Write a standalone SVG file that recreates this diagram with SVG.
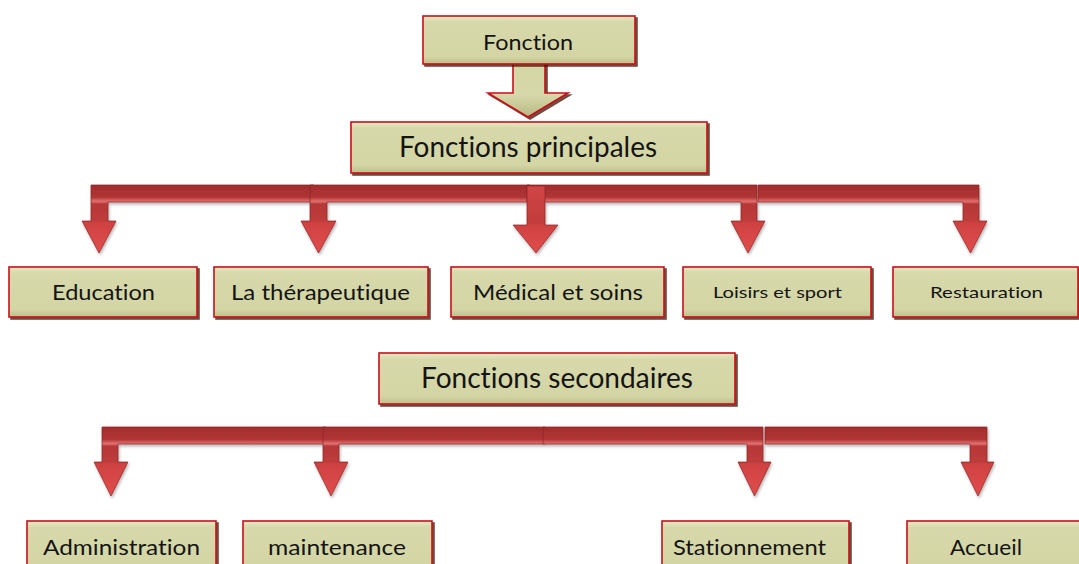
<svg xmlns="http://www.w3.org/2000/svg" width="1079" height="564" viewBox="0 0 1079 564">
  <style>
    .box { fill: url(#boxFill); stroke: #c8101a; stroke-width: 1.6; filter: url(#boxShadow); }
    .lbl { font-family: Lato, "Open Sans", "Liberation Sans", sans-serif; fill: #141414; text-anchor: middle; font-variant-ligatures: none; font-feature-settings: "liga" 0; }
    .arrow1 { fill: url(#redRow1); stroke: #8e2424; stroke-width: 0.7; }
    .arrow2 { fill: url(#redRow2); stroke: #8e2424; stroke-width: 0.7; }
    .arrowC { fill: url(#redMid); stroke: #8e2424; stroke-width: 0.7; }
  </style>
  <defs>
    <linearGradient id="boxFill" x1="0" y1="0" x2="0" y2="1">
      <stop offset="0" stop-color="#e6e8c4"/>
      <stop offset="0.12" stop-color="#d7d9ab"/>
      <stop offset="0.85" stop-color="#d3d5a4"/>
      <stop offset="1" stop-color="#bcbf8a"/>
    </linearGradient>
    <linearGradient id="khakiArrow" x1="0" y1="0" x2="0" y2="1">
      <stop offset="0" stop-color="#d3d5a3"/>
      <stop offset="0.6" stop-color="#d7d9ab"/>
      <stop offset="1" stop-color="#b7ba82"/>
    </linearGradient>
    <!-- red fill for the bent arrows, laid out in page space per row -->
    <linearGradient id="redRow1" gradientUnits="userSpaceOnUse" x1="0" y1="185" x2="0" y2="253">
      <stop offset="0" stop-color="#a22c2c"/>
      <stop offset="0.18" stop-color="#b13535"/>
      <stop offset="0.24" stop-color="#e27070"/>
      <stop offset="0.28" stop-color="#b63838"/>
      <stop offset="0.52" stop-color="#be3b3b"/>
      <stop offset="0.56" stop-color="#cf4242"/>
      <stop offset="1" stop-color="#e24c4c"/>
    </linearGradient>
    <linearGradient id="redRow2" gradientUnits="userSpaceOnUse" x1="0" y1="427" x2="0" y2="496">
      <stop offset="0" stop-color="#a22c2c"/>
      <stop offset="0.18" stop-color="#b13535"/>
      <stop offset="0.24" stop-color="#e27070"/>
      <stop offset="0.28" stop-color="#b63838"/>
      <stop offset="0.5" stop-color="#be3b3b"/>
      <stop offset="0.54" stop-color="#cf4242"/>
      <stop offset="1" stop-color="#e24c4c"/>
    </linearGradient>
    <linearGradient id="redMid" gradientUnits="userSpaceOnUse" x1="0" y1="186" x2="0" y2="253">
      <stop offset="0" stop-color="#d04545"/>
      <stop offset="0.55" stop-color="#c23c3c"/>
      <stop offset="0.59" stop-color="#cf4242"/>
      <stop offset="1" stop-color="#e24c4c"/>
    </linearGradient>
    <filter id="boxShadow" x="-5%" y="-10%" width="112%" height="130%">
      <feDropShadow dx="2" dy="2" stdDeviation="0.7" flood-color="#3a0a05" flood-opacity="0.75"/>
    </filter>
    <filter id="arrowShadow" x="-5%" y="-10%" width="112%" height="130%">
      <feDropShadow dx="1" dy="2" stdDeviation="1.5" flood-color="#000" flood-opacity="0.3"/>
    </filter>
  </defs>

  <rect width="1079" height="564" fill="#ffffff"/>

  <!-- connectors -->
  <g id="connectors">
    <!-- Fonction to Fonctions principales -->
    <path d="M513,60 L545,60 L545,93 L568,93 L528,117 L488,93 L513,93 Z" fill="url(#khakiArrow)" stroke="#c8101a" stroke-width="1.6" filter="url(#boxShadow)"/>

    <!-- Fonctions principales branches -->
    <g filter="url(#arrowShadow)">
      <path class="arrow1" d="M314,185 L91,185 L91,221 L82,221 L99,253 L116,221 L108,221 L108,202 L314,202 Z"/>
      <path class="arrow1" d="M530,185 L310,185 L310,221 L301,221 L318.5,253 L336,221 L327,221 L327,202 L530,202 Z"/>
      <path class="arrow1" d="M758,185 L979,185 L979,221 L987,221 L970.5,253 L953,221 L963,221 L963,202 L758,202 Z"/>
      <path class="arrow1" d="M527,185 L757,185 L757,221 L765,221 L748,253 L731,221 L741,221 L741,202 L527,202 Z"/>
      <path class="arrowC" d="M527,186 L545,186 L545,225 L558,225 L536,253 L513,225 L527,225 Z"/>
    </g>

    <!-- Fonctions secondaires branches -->
    <g filter="url(#arrowShadow)">
      <path class="arrow2" d="M326,427 L102,427 L102,462 L94,462 L111,496 L128,462 L118,462 L118,444 L326,444 Z"/>
      <path class="arrow2" d="M545,427 L323,427 L323,462 L314,462 L331,496 L348,462 L339,462 L339,444 L545,444 Z"/>
      <path class="arrow2" d="M765,427 L987,427 L987,462 L994,462 L978,496 L961,462 L970,462 L970,444 L765,444 Z"/>
      <path class="arrow2" d="M543,427 L763,427 L763,462 L771,462 L754.5,496 L738,462 L747,462 L747,444 L543,444 Z"/>
    </g>
  </g>

  <!-- level 0 -->
  <g id="fonction">
    <rect class="box" x="423" y="16" width="212" height="48"/>
    <text class="lbl" x="528" y="50" font-size="22" textLength="90" lengthAdjust="spacingAndGlyphs">Fonction</text>
  </g>

  <g id="fonctions-principales">
    <rect class="box" x="351" y="122" width="356" height="51"/>
    <text class="lbl" x="528" y="157" font-size="28" textLength="258" lengthAdjust="spacingAndGlyphs">Fonctions principales</text>
  </g>

  <!-- main functions -->
  <g id="education">
    <rect class="box" x="9" y="267" width="188" height="50"/>
    <text class="lbl" x="103.5" y="300" font-size="21" textLength="103" lengthAdjust="spacingAndGlyphs">Education</text>
  </g>
  <g id="therapeutique">
    <rect class="box" x="214" y="267" width="214" height="50"/>
    <text class="lbl" x="320.5" y="300" font-size="21" textLength="179" lengthAdjust="spacingAndGlyphs">La thérapeutique</text>
  </g>
  <g id="medical">
    <rect class="box" x="451" y="267" width="213" height="50"/>
    <text class="lbl" x="558" y="300" font-size="21" textLength="170" lengthAdjust="spacingAndGlyphs">Médical et soins</text>
  </g>
  <g id="loisirs">
    <rect class="box" x="683" y="267" width="188" height="50"/>
    <text class="lbl" x="777.5" y="298" font-size="16" textLength="129" lengthAdjust="spacingAndGlyphs">Loisirs et sport</text>
  </g>
  <g id="restauration">
    <rect class="box" x="893" y="267" width="185" height="50"/>
    <text class="lbl" x="986.5" y="298" font-size="16" textLength="113" lengthAdjust="spacingAndGlyphs">Restauration</text>
  </g>

  <g id="fonctions-secondaires">
    <rect class="box" x="379" y="353" width="356" height="51"/>
    <text class="lbl" x="557" y="388" font-size="28" textLength="272" lengthAdjust="spacingAndGlyphs">Fonctions secondaires</text>
  </g>

  <!-- secondary functions -->
  <g id="administration">
    <rect class="box" x="27" y="521" width="189" height="52"/>
    <text class="lbl" x="121.5" y="555" font-size="21" textLength="157" lengthAdjust="spacingAndGlyphs">Administration</text>
  </g>
  <g id="maintenance">
    <rect class="box" x="243" y="521" width="189" height="52"/>
    <text class="lbl" x="337" y="555" font-size="21" textLength="138" lengthAdjust="spacingAndGlyphs">maintenance</text>
  </g>
  <g id="stationnement">
    <rect class="box" x="662" y="521" width="187" height="52"/>
    <text class="lbl" x="749.5" y="555" font-size="21" textLength="153" lengthAdjust="spacingAndGlyphs">Stationnement</text>
  </g>
  <g id="accueil">
    <rect class="box" x="907" y="521" width="185" height="52"/>
    <text class="lbl" x="986" y="555" font-size="21" textLength="72" lengthAdjust="spacingAndGlyphs">Accueil</text>
  </g>
</svg>
